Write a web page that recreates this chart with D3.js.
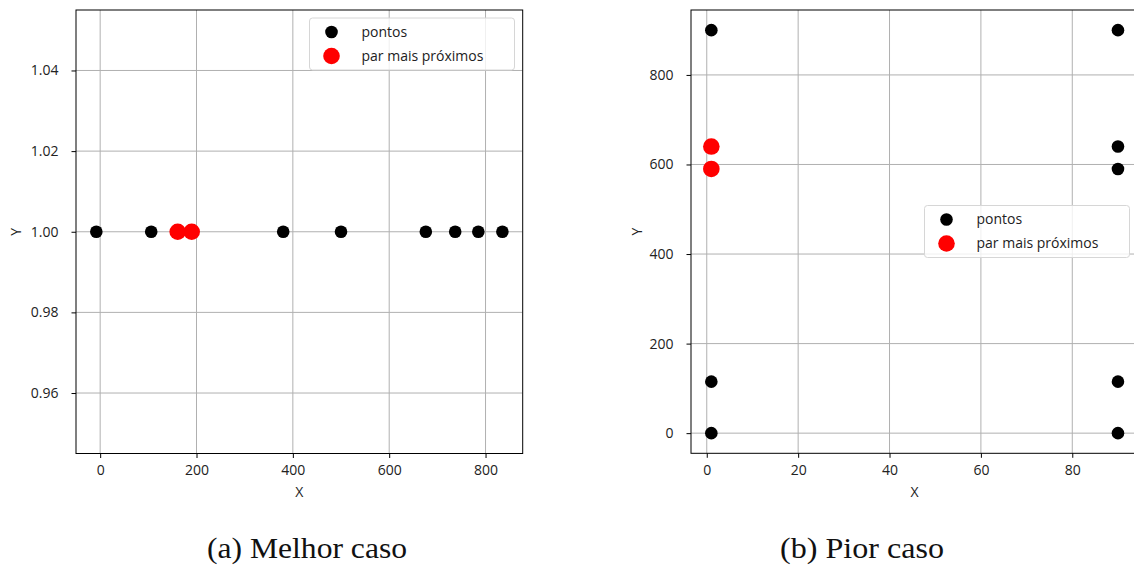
<!DOCTYPE html>
<html>
<head>
<meta charset="utf-8">
<script src="https://cdn.jsdelivr.net/npm/d3@7"></script>
<style>
  html, body { margin: 0; padding: 0; background: #fff; }
  svg { display: block; }
</style>
</head>
<body>
<svg id="chart" width="1134" height="568"></svg>
<script>
// ---- Data ----
// (a) Melhor caso
const melhorX = [-8, 106, 161, 190, 380, 500, 676, 737, 785, 835];
const melhorY = [1, 1, 1, 1, 1, 1, 1, 1, 1, 1];
const melhorParX = [161, 190];
const melhorParY = [1, 1];
const melhorXTicks = [0, 200, 400, 600, 800];
const melhorYTicks = [0.96, 0.98, 1.00, 1.02, 1.04];
const melhorYDomain = [0.945, 1.055];

// (b) Pior caso
const piorX = [1, 1, 1, 1, 1, 90, 90, 90, 90, 90];
const piorY = [0, 115, 590, 640, 900, 0, 115, 590, 640, 900];
const piorParX = [1, 1];
const piorParY = [590, 640];
const piorXTicks = [0, 20, 40, 60, 80];
const piorYTicks = [0, 200, 400, 600, 800];

const legendLabels = ["pontos", "par mais próximos"];
const captions = ["(a) Melhor caso", "(b) Pior caso"];

// ---- Drawing ----
const svg = d3.select("#chart");
const FONT = "'Open Sans', 'DejaVu Sans', sans-serif";

function padDomain(vals) {
  const [lo, hi] = d3.extent(vals);
  const m = (hi - lo) * 0.05;
  return [lo - m, hi + m];
}

function panel(cfg) {
  const g = svg.append("g");
  const x = d3.scaleLinear().domain(cfg.xDomain).range([cfg.left, cfg.right]);
  const y = d3.scaleLinear().domain(cfg.yDomain).range([cfg.bottom, cfg.top]);

  const clipId = "clip" + cfg.id;
  svg.append("clipPath").attr("id", clipId).append("rect")
    .attr("x", cfg.left).attr("y", cfg.top)
    .attr("width", cfg.right - cfg.left).attr("height", cfg.bottom - cfg.top);

  // grid
  const grid = g.append("g").attr("clip-path", `url(#${clipId})`);
  grid.selectAll(".gx").data(cfg.xTicks).join("line")
    .attr("x1", d => x(d)).attr("x2", d => x(d))
    .attr("y1", cfg.top).attr("y2", cfg.bottom)
    .attr("stroke", "#b0b0b0").attr("stroke-width", 1);
  grid.selectAll(".gy").data(cfg.yTicks).join("line")
    .attr("y1", d => y(d)).attr("y2", d => y(d))
    .attr("x1", cfg.left).attr("x2", cfg.right)
    .attr("stroke", "#b0b0b0").attr("stroke-width", 1);

  // axes
  const xAxis = d3.axisBottom(x).tickValues(cfg.xTicks).tickSize(4.5).tickPadding(7)
    .tickFormat(cfg.xFormat);
  const yAxis = d3.axisLeft(y).tickValues(cfg.yTicks).tickSize(4.5).tickPadding(13)
    .tickFormat(cfg.yFormat);
  const gx = g.append("g").attr("transform", `translate(0,${cfg.bottom})`).call(xAxis);
  const gy = g.append("g").attr("transform", `translate(${cfg.left},0)`).call(yAxis);
  [gx, gy].forEach(a => {
    a.select(".domain").remove();
    a.selectAll("line").attr("stroke", "#000").attr("stroke-width", 1);
    a.selectAll("text").attr("fill", "#222").style("font-family", FONT).style("font-size", "14px");
  });

  // spines
  g.append("rect")
    .attr("x", cfg.left).attr("y", cfg.top)
    .attr("width", cfg.right - cfg.left).attr("height", cfg.bottom - cfg.top)
    .attr("fill", "none").attr("stroke", "#000").attr("stroke-width", 1);

  // points
  const pts = g.append("g").attr("clip-path", `url(#${clipId})`);
  pts.selectAll(".p").data(cfg.xs.map((v, i) => [v, cfg.ys[i]])).join("circle")
    .attr("cx", d => x(d[0])).attr("cy", d => y(d[1])).attr("r", 6.3).attr("fill", "#000");
  pts.selectAll(".r").data(cfg.rx.map((v, i) => [v, cfg.ry[i]])).join("circle")
    .attr("cx", d => x(d[0])).attr("cy", d => y(d[1])).attr("r", 8.3).attr("fill", "#ff0000");

  // axis labels
  g.append("text").attr("x", (cfg.left + cfg.right) / 2).attr("y", 497)
    .attr("text-anchor", "middle").style("font-family", FONT).style("font-size", "14px")
    .attr("fill", "#222").text("X");
  g.append("text").attr("transform", `translate(${cfg.yLabelX},${(cfg.top + cfg.bottom) / 2}) rotate(-90)`)
    .attr("text-anchor", "middle").attr("dy", "0.35em").style("font-family", FONT).style("font-size", "14px")
    .attr("fill", "#222").text("Y");

  // legend
  const L = cfg.legend;
  const lg = g.append("g");
  lg.append("rect").attr("x", L.x).attr("y", L.y).attr("width", 205).attr("height", 52)
    .attr("rx", 3).attr("fill", "#fff").attr("fill-opacity", 0.8)
    .attr("stroke", "#d6d6d6").attr("stroke-width", 1);
  const items = [{ c: "#000", r: 6.3 }, { c: "#ff0000", r: 8.3 }];
  items.forEach((it, i) => {
    const cy = L.y + 14 + i * 24;
    lg.append("circle").attr("cx", L.x + 22).attr("cy", cy).attr("r", it.r).attr("fill", it.c);
    lg.append("text").attr("x", L.x + 52).attr("y", cy).attr("dy", "0.35em")
      .style("font-family", FONT).style("font-size", "14px").attr("fill", "#222")
      .text(legendLabels[i]);
  });

  // caption
  svg.append("text").attr("x", cfg.capX).attr("y", 558).attr("text-anchor", "middle")
    .style("font-family", "'Liberation Serif', 'DejaVu Serif', serif").style("font-size", "29px")
    .attr("fill", "#111").attr("textLength", cfg.capW).attr("lengthAdjust", "spacingAndGlyphs")
    .text(cfg.caption);
}

panel({
  id: "a", left: 76, right: 522.7, top: 10, bottom: 453.5,
  xDomain: padDomain(melhorX), yDomain: melhorYDomain,
  xTicks: melhorXTicks, yTicks: melhorYTicks,
  xFormat: d3.format("d"), yFormat: d3.format(".2f"),
  xs: melhorX, ys: melhorY, rx: melhorParX, ry: melhorParY,
  yLabelX: 16, legend: { x: 309.5, y: 18 },
  caption: captions[0], capX: 307, capW: 200
});

panel({
  id: "b", left: 691, right: 1138.3, top: 10, bottom: 453.3,
  xDomain: padDomain(piorX), yDomain: padDomain(piorY),
  xTicks: piorXTicks, yTicks: piorYTicks,
  xFormat: d3.format("d"), yFormat: d3.format("d"),
  xs: piorX, ys: piorY, rx: piorParX, ry: piorParY,
  yLabelX: 637.5, legend: { x: 924.5, y: 205.5 },
  caption: captions[1], capX: 862, capW: 164
});
</script>
</body>
</html>
